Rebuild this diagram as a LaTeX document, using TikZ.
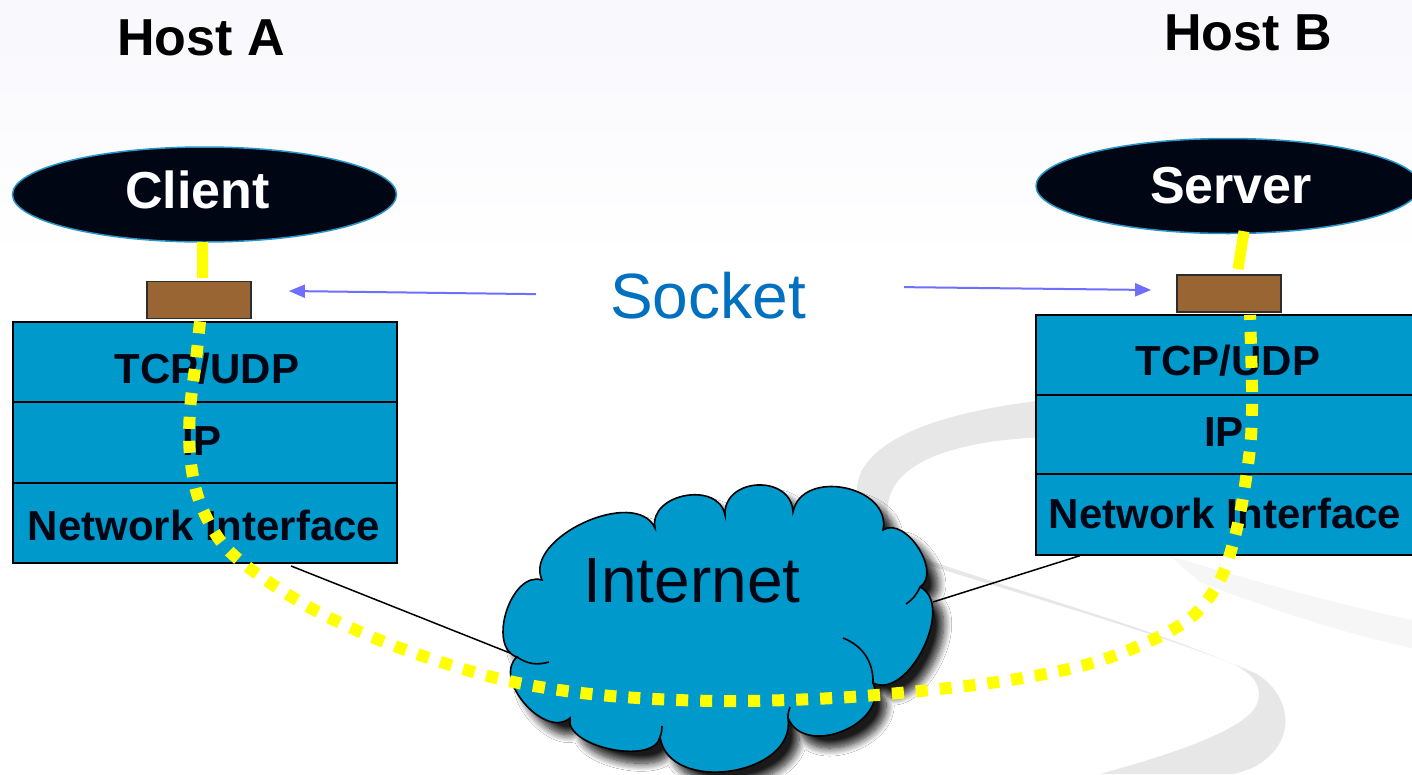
\documentclass[tikz,border=0pt]{standalone}
\usepackage{fontspec}
\setmainfont{Liberation Sans}
\usetikzlibrary{shapes.geometric,arrows.meta,calc,shadows.blur}
\definecolor{stackblue}{RGB}{0,153,204}
\definecolor{appnavy}{RGB}{0,6,20}
\definecolor{ink}{RGB}{0,6,20}
\definecolor{ellborder}{RGB}{40,150,200}
\definecolor{sockbrown}{RGB}{153,102,51}
\definecolor{sockedge}{RGB}{45,45,45}
\definecolor{socktext}{RGB}{0,112,192}
\definecolor{arrowblue}{RGB}{110,110,255}
\definecolor{swoosh}{RGB}{231,231,231}
\definecolor{faintswoosh}{RGB}{246,246,246}
\definecolor{hl}{RGB}{255,255,0}
\definecolor{bgtop}{RGB}{248,248,253}
\newcommand\cloudoutline{(542,580) to[bend left=90,looseness=0.95] (655,528) to[bend left=90,looseness=1.26] (725,515) to[bend left=90,looseness=1.43] (793,512) to[bend left=90,looseness=1.26] (883,530) to[bend left=90,looseness=1.0] (920,587) to[bend left=90,looseness=0.95] (873,683) to[bend left=90,looseness=1.22] (788,718) to[bend left=90,looseness=1.16] (660,737) to[bend left=90,looseness=0.82] (570,718) to[bend left=90,looseness=1.05] (517,657) to[bend left=90,looseness=1.02] (542,580) -- cycle}
\begin{document}
\begin{tikzpicture}[x=1pt,y=-1pt,
  layer/.style={rectangle, draw=black, line width=2pt, fill=stackblue, minimum width=384pt, minimum height=80.3pt, inner sep=0pt},
  lbl/.style={inner sep=0pt, anchor=base, text=ink, font=\fontsize{42}{48}\selectfont\bfseries},
  host/.style={inner sep=0pt, anchor=base, text=black, font=\fontsize{52}{60}\selectfont\bfseries},
  app/.style={ellipse, draw=ellborder, line width=1.5pt, fill=appnavy, text=white, inner sep=0pt, minimum width=384pt, minimum height=95pt, font=\fontsize{52}{60}\selectfont\bfseries},
  sock/.style={rectangle, draw=sockedge, line width=1.8pt, fill=sockbrown, minimum width=104pt, minimum height=37pt, inner sep=0pt},
  ysolid/.style={draw=hl, line width=11pt},
  ydots/.style={draw=hl, line width=12pt, dash pattern=on 12pt off 12pt},
  sockarrow/.style={draw=arrowblue, line width=2pt, -{Triangle[length=16pt,width=13pt]}},
  wire/.style={draw=black, line width=1.5pt},
  cloudfill/.style={fill=stackblue, draw=black, line width=1.6pt},
  bigtext/.style={inner sep=0pt, anchor=base, font=\fontsize{64}{72}\selectfont},
]
\useasboundingbox (0,0) rectangle (1412,774);
\clip (0,0) rectangle (1412,774);
\fill[white] (0,0) rectangle (1412,774);
\shade[top color=bgtop, bottom color=white] (0,0) rectangle (1412,260);

% background swoosh
\fill[faintswoosh] (1170,556) .. controls (1250,580) and (1340,605) .. (1412,620) -- (1412,648) .. controls (1330,630) and (1260,605) .. (1200,582) -- cycle;
\fill[swoosh] (1045,400) .. controls (960,410) and (885,430) .. (862,470)
  .. controls (845,505) and (870,545) .. (931,566)
  .. controls (1030,597) and (1180,640) .. (1255,673)
  .. controls (1285,690) and (1295,725) .. (1275,750)
  .. controls (1262,765) and (1250,770) .. (1233,774)
  -- (1100,774)
  .. controls (1180,752) and (1240,730) .. (1255,708)
  .. controls (1265,690) and (1255,675) .. (1235,665)
  .. controls (1150,628) and (1030,595) .. (931,561)
  .. controls (885,540) and (880,510) .. (895,485)
  .. controls (915,455) and (970,440) .. (1045,437) -- cycle;

% protocol stacks
\node[layer] (tcpA) at (205,362.2) {};
\node[layer] (ipA) at (205,442.5) {};
\node[layer] (niA) at (205,522.8) {};
\node[layer] (tcpB) at (1228,355) {};
\node[layer] (ipB) at (1228,435) {};
\node[layer] (niB) at (1228,514.5) {};
\node[lbl] (tcpAt) at (207,383) {TCP/UDP};
\node[lbl] (ipAt) at (202,455) {IP};
\node[lbl] (niAt) at (204,540) {Network Interface};
\node[lbl] (tcpBt) at (1228,375) {TCP/UDP};
\node[lbl] (ipBt) at (1224,446) {IP};
\node[lbl] (niBt) at (1225,528) {Network Interface};

% wires to the cloud
\coordinate (cloudL) at (515,655);
\coordinate (cloudR) at (933,602);
\draw[wire] ($(niA.south)+(86,2)$) -- (cloudL);
\draw[wire] ($(niB.south)+(-148,0)$) -- (cloudR);

% cloud
\filldraw[cloudfill, blur shadow={shadow xshift=11pt, shadow yshift=-12pt, shadow blur radius=8pt, shadow opacity=90, shadow blur steps=12}] \cloudoutline;
\draw[black, line width=1.6pt] (517,657) to[bend right=25] (549,662);
\draw[black, line width=1.6pt] (843,638) to[bend left=35] (873,683);
\draw[black, line width=1.6pt] (920,587) to[bend left=15] (906,604);
\draw[black, line width=1.6pt] (788,718) to[bend left=10] (790,707);
\draw[black, line width=1.6pt] (660,737) to[bend right=10] (662,726);
\node[bigtext, text=ink] (inet) at (692,602) {Internet};

% applications
\node[sock] (sockA) at (199,300) {};
\node[sock] (sockB) at (1229,293.5) {};
\node[app, text depth=10pt] (client) at (204.5,194.5) {Client\hspace*{14pt}};
\node[app] (server) at (1228,186) {\hspace*{6pt}Server};
\draw[ysolid] ($(client.south)+(-2.5,-1)$) -- ($(sockA.north)+(3,-3)$);
\draw[ysolid] ($(server.south)+(16,-3)$) -- ($(sockB.north)+(9,-5)$);

% socket label and arrows
\node[bigtext, text=socktext] (socket) at (708,318) {Socket};
\draw[sockarrow] ($(socket.west)+(-74,-1)$) -- ($(sockA.east)+(37,-9)$);
\draw[sockarrow] ($(socket.east)+(98,-8)$) -- ($(sockB.west)+(-25,-3.5)$);

% hosts
\node[host] (hostA) at (201,55) {Host A};
\node[host] (hostB) at (1248,50) {Host B};

% dotted end-to-end path
\coordinate (dA) at ($(sockA.south)+(1,2)$);
\coordinate (dB) at ($(sockB.south)+(21,2)$);
\draw[ydots] plot[smooth, tension=0.55] coordinates {(dA) (196,360) (190,410) (190,455) (199,500) (222,543) (260,576) (320,613) (400,648) (500,679) (600,695) (720,701) (850,697) (990,683) (1085,665) (1150,641) (1194,615) (1221,578) (1236,532) (1245,485) (1251,437) (1252,388) (dB)};
\end{tikzpicture}
\end{document}
